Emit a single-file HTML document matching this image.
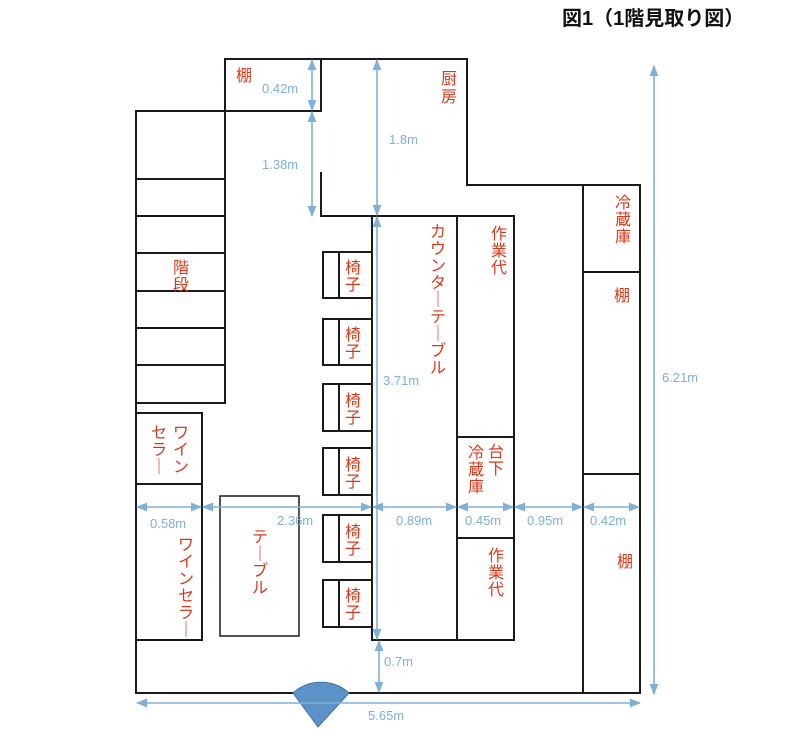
<!DOCTYPE html>
<html><head><meta charset="utf-8"><style>
html,body{margin:0;padding:0;background:#fff;}
svg{display:block;}
.w{stroke:#1a1a1a;stroke-width:2;fill:none;}
.t{fill:#d63a1c;font-family:"Liberation Sans","Noto Sans CJK JP",sans-serif;font-size:16px;}
.d{fill:#7eb0d8;font-family:"Liberation Sans","Noto Sans CJK JP",sans-serif;font-size:13px;}
.dl{stroke:#7eb0d8;stroke-width:1.6;fill:none;}
</style></head><body>
<svg width="786" height="733" viewBox="0 0 786 733" xmlns="http://www.w3.org/2000/svg">
<defs>
<marker id="a" viewBox="0 0 10 10" refX="9" refY="5" markerWidth="7" markerHeight="7" orient="auto-start-reverse"><path d="M0,1 L10,5 L0,9 z" fill="#7eb0d8"/></marker>
</defs>
<text x="562" y="25" font-family="'Liberation Sans','Noto Sans CJK JP',sans-serif" font-size="20" font-weight="bold" fill="#111">図1（1階見取り図）</text>

<polyline class="w" points="225,111 225,59 467,59 467,185 640,185 640,693 136,693 136,111 225,111"/>
<polyline class="w" points="225,111 321,111 321,59"/>
<polyline class="w" points="321,172 321,216 372,216"/>
<rect class="w" x="136" y="111" width="89" height="292"/>
<g class="w"><line x1="136" y1="179" x2="225" y2="179"/><line x1="136" y1="216" x2="225" y2="216"/><line x1="136" y1="253" x2="225" y2="253"/><line x1="136" y1="291" x2="225" y2="291"/><line x1="136" y1="328" x2="225" y2="328"/><line x1="136" y1="365" x2="225" y2="365"/></g>
<rect class="w" x="136" y="413" width="66" height="227"/>
<line class="w" x1="136" y1="484" x2="202" y2="484"/>
<rect x="220" y="496" width="79" height="140" fill="none" stroke="#1a1a1a" stroke-width="1.5"/>
<g class="w">
<rect x="323" y="252" width="49" height="46"/><line x1="339" y1="252" x2="339" y2="298"/>
<rect x="323" y="319" width="49" height="46"/><line x1="339" y1="319" x2="339" y2="365"/>
<rect x="323" y="384" width="49" height="47"/><line x1="339" y1="384" x2="339" y2="431"/>
<rect x="323" y="448" width="49" height="47"/><line x1="339" y1="448" x2="339" y2="495"/>
<rect x="323" y="515" width="49" height="47"/><line x1="339" y1="515" x2="339" y2="562"/>
<rect x="323" y="580" width="49" height="47"/><line x1="339" y1="580" x2="339" y2="627"/>
</g>
<rect class="w" x="372" y="216" width="142" height="424"/>
<line class="w" x1="457" y1="216" x2="457" y2="640"/>
<line class="w" x1="457" y1="437" x2="514" y2="437"/>
<line class="w" x1="457" y1="538" x2="514" y2="538"/>
<line class="w" x1="583" y1="185" x2="583" y2="693"/>
<line class="w" x1="583" y1="272" x2="640" y2="272"/>
<line class="w" x1="583" y1="474" x2="640" y2="474"/>
<path d="M318,727 L293,693 A42,42 0 0 1 349,693 Z" fill="#5b93c9" stroke="#3f6f9f" stroke-width="1"/>

<g class="dl">
<line x1="654" y1="66" x2="654" y2="694" marker-start="url(#a)" marker-end="url(#a)"/>
<line x1="137" y1="703" x2="640" y2="703" marker-start="url(#a)" marker-end="url(#a)"/>
<line x1="312" y1="60" x2="312" y2="110" marker-start="url(#a)" marker-end="url(#a)"/>
<line x1="312" y1="112" x2="312" y2="216" marker-start="url(#a)" marker-end="url(#a)"/>
<line x1="377" y1="60" x2="377" y2="215" marker-start="url(#a)" marker-end="url(#a)"/>
<line x1="377" y1="217" x2="377" y2="639" marker-start="url(#a)" marker-end="url(#a)"/>
<line x1="379" y1="641" x2="379" y2="692" marker-start="url(#a)" marker-end="url(#a)"/>
<line x1="137" y1="507" x2="201" y2="507" marker-start="url(#a)" marker-end="url(#a)"/>
<line x1="203" y1="507" x2="371" y2="507" marker-start="url(#a)" marker-end="url(#a)"/>
<line x1="373" y1="507" x2="456" y2="507" marker-start="url(#a)" marker-end="url(#a)"/>
<line x1="458" y1="507" x2="513" y2="507" marker-start="url(#a)" marker-end="url(#a)"/>
<line x1="515" y1="507" x2="582" y2="507" marker-start="url(#a)" marker-end="url(#a)"/>
<line x1="584" y1="507" x2="639" y2="507" marker-start="url(#a)" marker-end="url(#a)"/>
</g>
<g class="d">
<text x="662" y="382">6.21m</text>
<text x="368" y="720">5.65m</text>
<text x="262" y="93">0.42m</text>
<text x="262" y="169">1.38m</text>
<text x="389" y="144">1.8m</text>
<text x="383" y="385">3.71m</text>
<text x="384" y="666">0.7m</text>
<text x="150" y="528">0.58m</text>
<text x="277" y="525">2.36m</text>
<text x="396" y="525">0.89m</text>
<text x="465" y="525">0.45m</text>
<text x="527" y="525">0.95m</text>
<text x="590" y="525">0.42m</text>
</g>

<g class="t" text-anchor="middle">
<text x="244" y="81">棚</text>
<text x="449" y="84">厨</text><text x="449" y="102">房</text>
<text x="181" y="273">階</text><text x="181" y="290">段</text>
<text x="438" y="237">カ</text><text x="438" y="254">ウ</text><text x="438" y="271">ン</text><text x="438" y="288">タ</text><text x="438" y="305">｜</text><text x="438" y="322">テ</text><text x="438" y="339">｜</text><text x="438" y="356">ブ</text><text x="438" y="373">ル</text>
<text x="499" y="239">作</text><text x="499" y="256">業</text><text x="499" y="273">代</text>
<text x="496" y="457">台</text><text x="496" y="474">下</text>
<text x="476" y="458">冷</text><text x="476" y="475">蔵</text><text x="476" y="492">庫</text>
<text x="496" y="561">作</text><text x="496" y="578">業</text><text x="496" y="595">代</text>
<text x="623" y="208">冷</text><text x="623" y="225">蔵</text><text x="623" y="242">庫</text>
<text x="622" y="301">棚</text>
<text x="625" y="567">棚</text>
<text x="353" y="273">椅</text><text x="353" y="290">子</text>
<text x="353" y="340">椅</text><text x="353" y="357">子</text>
<text x="353" y="406">椅</text><text x="353" y="423">子</text>
<text x="353" y="470">椅</text><text x="353" y="487">子</text>
<text x="353" y="537">椅</text><text x="353" y="554">子</text>
<text x="353" y="601">椅</text><text x="353" y="618">子</text>
<text x="181" y="438">ワ</text><text x="181" y="455">イ</text><text x="181" y="472">ン</text>
<text x="159" y="438">セ</text><text x="159" y="455">ラ</text><text x="159" y="472">｜</text>
<text x="186" y="550">ワ</text><text x="186" y="567">イ</text><text x="186" y="584">ン</text><text x="186" y="601">セ</text><text x="186" y="618">ラ</text><text x="186" y="635">｜</text>
<text x="260" y="542">テ</text><text x="260" y="559">｜</text><text x="260" y="576">ブ</text><text x="260" y="593">ル</text>
</g>
</svg>
</body></html>
